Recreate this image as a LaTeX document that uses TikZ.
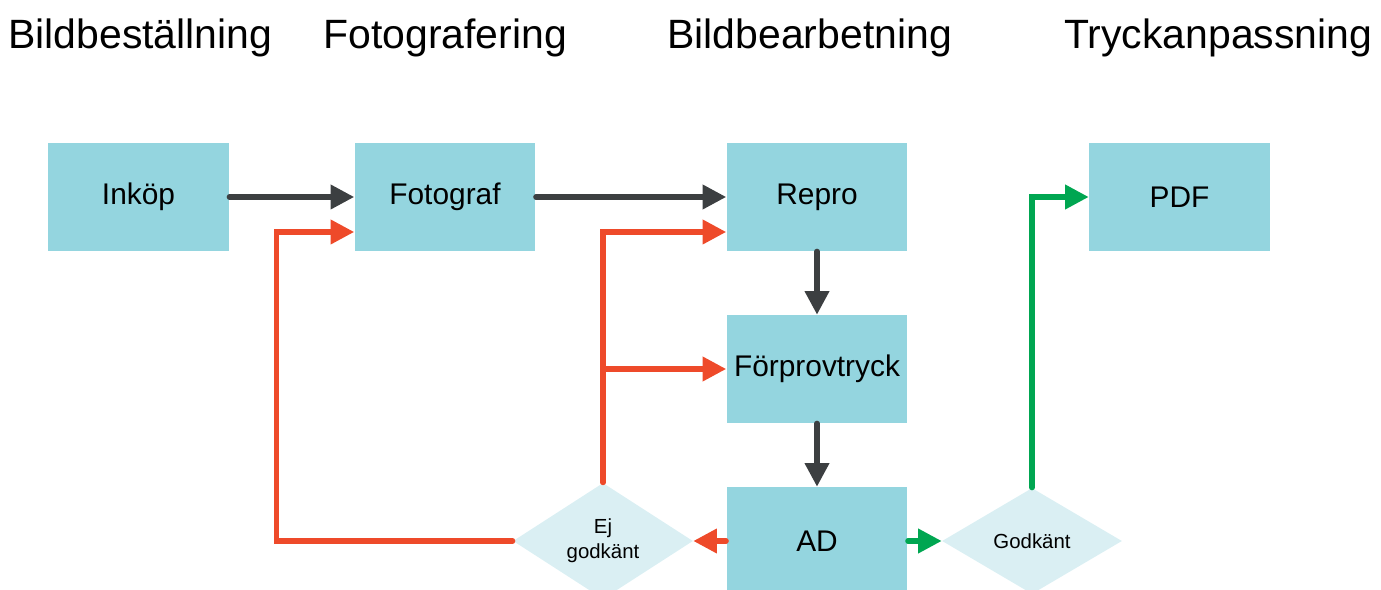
\documentclass[tikz,border=0pt]{standalone}
\usepackage{fontspec}
\setmainfont{Liberation Sans}
\usetikzlibrary{arrows.meta,shapes.geometric}
\definecolor{boxteal}{HTML}{94D5DF}
\definecolor{diapale}{HTML}{DAEFF3}
\definecolor{flowgray}{HTML}{3C3F41}
\definecolor{flowred}{HTML}{EE4A2A}
\definecolor{flowgreen}{HTML}{00A651}
\tikzset{
  stepbox/.style={rectangle, fill=boxteal, minimum width=3.62cm, minimum height=2.16cm,
    inner sep=0pt, font=\fontsize{17}{20}\selectfont},
  check/.style={diamond, fill=diapale, minimum width=3.6cm, minimum height=2.12cm,
    inner sep=0pt, align=center, font=\fontsize{11.6}{14}\selectfont},
  phase/.style={anchor=base west, inner sep=0pt, font=\fontsize{23.3}{28}\selectfont},
  darr/.style={-{Triangle[length=0.47cm,width=0.47cm]}, flowgray, line width=0.105cm, line cap=round},
  rarr/.style={darr, flowred},
  garr/.style={darr, flowgreen},
}
\begin{document}
\begin{tikzpicture}[x=0.02cm,y=-0.02cm]
\clip (0,0) rectangle (1381,590);
\useasboundingbox (0,0) rectangle (1381,590);
% phases
\node[phase] (p1) at (8,49) {Bildbeställning};
\node[phase] (p2) at (323,49) {Fotografering};
\node[phase] (p3) at (667,49) {Bildbearbetning};
\node[phase] (p4) at (1064,49) {Tryckanpassning};
% steps
\node[stepbox] (inkop) at (138.5,197) {Inköp};
\node[stepbox] (foto) at (445,197) {Fotograf};
\node[stepbox] (repro) at (817,197) {Repro};
\node[stepbox] (pdf) at (1179.5,197) {PDF};
\node[stepbox] (prov) at (817,369) {Förprovtryck};
\node[stepbox] (ad) at (817,541) {AD};
\node[check] (ej) at (603,541) {Ej\\godkänt};
\node[check] (ok) at (1032,541) {Godkänt};
% main flow
\draw[darr] (inkop) -- (foto);
\draw[darr] (foto) -- (repro);
\draw[darr] (repro) -- (prov);
\draw[darr] (prov) -- (ad);
% rejected
\draw[rarr] (ad) -- (ej);
\draw[rarr] (ej.north) |- ([yshift=-0.7cm]repro.west);
\draw[rarr] (ej.north |- prov.west) -- (prov.west);
\draw[rarr] (ej.west) -| ([xshift=-1.56cm,yshift=-0.7cm]foto.west) -- ([yshift=-0.7cm]foto.west);
% approved
\draw[garr] (ad) -- (ok);
\draw[garr] (ok.north) |- (pdf.west);
\end{tikzpicture}
\end{document}
